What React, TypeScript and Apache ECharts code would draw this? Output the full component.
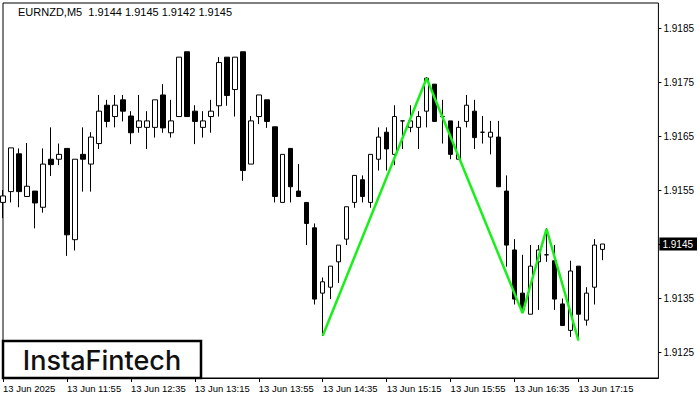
import React, { useEffect, useRef } from "react";
import * as echarts from "echarts";

// OHLC values per 5-minute bar (13 Jun, from 11:15)
const opens = [
  1.91527, 1.91547, 1.91617, 1.91538, 1.91548, 1.91518, 1.91607, 1.91607, 1.91627, 1.91458,
  1.91616, 1.91598, 1.91636, 1.91707, 1.91686, 1.91717, 1.91687, 1.91666, 1.91666, 1.91666,
  1.91726, 1.91656, 1.91686, 1.91806, 1.91696, 1.91666, 1.91686, 1.91706, 1.91796, 1.91736,
  1.91806, 1.91598, 1.91686, 1.91717, 1.91667, 1.91527, 1.91627, 1.91548, 1.91527, 1.9148,
  1.91359, 1.9137, 1.91417, 1.91459, 1.91527, 1.91569, 1.91527, 1.91607, 1.91657, 1.91616,
  1.91678, 1.91666, 1.91666, 1.91696, 1.91746, 1.91686, 1.91678, 1.91607, 1.91677, 1.91696,
  1.91657, 1.91648, 1.91648, 1.91548, 1.91439, 1.91359, 1.9132, 1.91417, 1.9143, 1.91419,
  1.91339, 1.9129, 1.91409, 1.91309, 1.9137, 1.9144,
];
const closes = [
  1.91539, 1.91628, 1.91547, 1.91557, 1.91526, 1.91598, 1.91597, 1.91616, 1.91467, 1.91607,
  1.91607, 1.91648, 1.91696, 1.91677, 1.91707, 1.91696, 1.91656, 1.91678, 1.91678, 1.91717,
  1.91665, 1.91678, 1.91796, 1.91686, 1.91677, 1.91678, 1.91696, 1.91786, 1.91725, 1.91796,
  1.91586, 1.91678, 1.91726, 1.91677, 1.91538, 1.91616, 1.91556, 1.91538, 1.91488, 1.91348,
  1.9138, 1.91409, 1.91448, 1.91519, 1.91577, 1.91538, 1.91616, 1.91648, 1.91626, 1.91686,
  1.91678, 1.91678, 1.91686, 1.91757, 1.91677, 1.91686, 1.91616, 1.91666, 1.91707, 1.91647,
  1.91657, 1.91657, 1.91556, 1.91448, 1.91348, 1.91328, 1.91409, 1.91439, 1.9143, 1.91348,
  1.91299, 1.914, 1.9132, 1.91359, 1.91448, 1.9145,
];
const lows = [
  1.91498, 1.91527, 1.91518, 1.91538, 1.91479, 1.91508, 1.91576, 1.91596, 1.91428, 1.91438,
  1.91547, 1.91547, 1.91626, 1.91666, 1.91666, 1.91677, 1.91635, 1.91656, 1.91626, 1.91647,
  1.91656, 1.91647, 1.91686, 1.91686, 1.91635, 1.91647, 1.91656, 1.91686, 1.91706, 1.91686,
  1.91567, 1.91598, 1.91672, 1.91665, 1.91527, 1.91527, 1.91527, 1.91538, 1.91448, 1.91338,
  1.9128, 1.91348, 1.91378, 1.91448, 1.91517, 1.91527, 1.91517, 1.91586, 1.91586, 1.91596,
  1.91626, 1.91657, 1.91626, 1.91666, 1.91677, 1.91636, 1.91607, 1.91607, 1.91666, 1.91626,
  1.91636, 1.91616, 1.91556, 1.91408, 1.91338, 1.91322, 1.9132, 1.91328, 1.91417, 1.91328,
  1.91299, 1.91278, 1.91272, 1.91299, 1.91338, 1.9142,
];
const highs = [
  1.9155, 1.91628, 1.91627, 1.91637, 1.91548, 1.91627, 1.91666, 1.91636, 1.91627, 1.91607,
  1.91666, 1.91657, 1.91726, 1.91717, 1.91726, 1.91726, 1.91696, 1.91726, 1.91696, 1.91717,
  1.91746, 1.91717, 1.91796, 1.91806, 1.91707, 1.91696, 1.91717, 1.91796, 1.91796, 1.91796,
  1.91806, 1.91687, 1.91726, 1.91717, 1.91667, 1.91616, 1.91627, 1.91598, 1.91527, 1.91488,
  1.91388, 1.91409, 1.91448, 1.91519, 1.91577, 1.91577, 1.91616, 1.91666, 1.91666, 1.91707,
  1.91678, 1.91707, 1.91696, 1.91759, 1.91746, 1.91717, 1.91678, 1.91678, 1.91726, 1.91717,
  1.91687, 1.91678, 1.91678, 1.91577, 1.91459, 1.9143, 1.91448, 1.91448, 1.91479, 1.91448,
  1.91349, 1.91419, 1.91409, 1.9137, 1.91459, 1.9145,
];

// Zigzag (double bottom pattern) pivots: bar index and price
const patternBars = [40, 53, 65, 68, 72];
const patternPrices = [1.9128, 1.91757, 1.91322, 1.91478, 1.91271];

const currentPrice = 1.9145;
const header = "EURNZD,M5  1.9144 1.9145 1.9142 1.9145";
const yTicks = [1.9125, 1.9135, 1.9145, 1.9155, 1.9165, 1.9175, 1.9185];
const xTickLabels = [
  "13 Jun 2025", "13 Jun 11:55", "13 Jun 12:35", "13 Jun 13:15", "13 Jun 13:55",
  "13 Jun 14:35", "13 Jun 15:15", "13 Jun 15:55", "13 Jun 16:35", "13 Jun 17:15",
];
const emptyBarsRight = 7;
const labelEvery = 8;

const pad = (n: number) => (n < 10 ? "0" + n : "" + n);
const categories: string[] = [];
for (let i = 0; i < opens.length + emptyBarsRight; i++) {
  const m = 11 * 60 + 15 + i * 5;
  categories.push("13 Jun " + pad(Math.floor(m / 60)) + ":" + pad(m % 60));
}

export default function App() {
  const ref = useRef<HTMLDivElement>(null);
  useEffect(() => {
    document.body.style.margin = "0";
    if (!ref.current) return;
    const chart = echarts.init(ref.current, undefined, { renderer: "svg" });
    const candleData = opens.map((o, i) => [o, closes[i], lows[i], highs[i]]);
    const lastTick = (xTickLabels.length - 1) * labelEvery;
    const showIdx = (i: number) => i % labelEvery === 0 && i <= lastTick;
    const yMin = 1.9185 - 350 / 54000;
    const yMax = 1.9185 + 25 / 54000;
    chart.setOption({
      animation: false,
      backgroundColor: "#fff",
      textStyle: { fontFamily: "Liberation Sans" },
      grid: {
        left: 3,
        top: 3,
        width: 656,
        height: 375,
        show: true,
        borderColor: "#000",
        borderWidth: 1,
        backgroundColor: "transparent",
      },
      xAxis: {
        type: "category",
        data: categories,
        boundaryGap: false,
        axisLine: { show: true, lineStyle: { color: "#000" } },
        axisTick: {
          show: true,
          length: 4,
          interval: (i: number) => showIdx(i),
          lineStyle: { color: "#000" },
        },
        axisLabel: {
          show: true,
          interval: (i: number) => showIdx(i),
          formatter: (_v: string, i: number) => (showIdx(i) ? xTickLabels[i / labelEvery] : ""),
          align: "left",
          margin: 5,
          fontSize: 9.5,
          color: "#000",
          fontFamily: "Liberation Sans",
        },
        splitLine: { show: false },
      },
      yAxis: [
        {
          type: "value",
          position: "right",
          min: yMin,
          max: yMax,
          scale: true,
          axisLine: { show: false },
          axisTick: {
            show: true,
            length: 3,
            customValues: yTicks,
            lineStyle: { color: "#000" },
          },
          axisLabel: {
            show: true,
            customValues: yTicks.filter((v) => Math.abs(v - currentPrice) > 1e-9),
            formatter: (v: number) => v.toFixed(4),
            margin: 5,
            fontSize: 10,
            color: "#000",
            fontFamily: "Liberation Sans",
          },
          splitLine: { show: false },
        },
        {
          type: "value",
          position: "right",
          min: yMin,
          max: yMax,
          scale: true,
          axisLine: { show: false },
          axisTick: { show: false },
          axisLabel: {
            show: true,
            customValues: [currentPrice],
            formatter: (v: number) => v.toFixed(4),
            margin: 1,
            fontSize: 10,
            color: "#fff",
            backgroundColor: "#000",
            padding: [2, 4, 1, 3],
            fontFamily: "Liberation Sans",
          },
          splitLine: { show: false },
        },
      ],
      series: [
        {
          type: "candlestick",
          data: candleData,
          barWidth: 5,
          clip: true,
          itemStyle: {
            color: "#ffffff",
            color0: "#000000",
            borderColor: "#000000",
            borderColor0: "#000000",
            borderWidth: 1,
          },
          markLine: {
            silent: true,
            symbol: ["none", "none"],
            lineStyle: { color: "#000", width: 1, type: "solid" },
            label: { show: false },
            data: [{ yAxis: currentPrice }],
          },
          z: 2,
        },
        {
          type: "line",
          data: patternBars.map((b, i) => [b, patternPrices[i]]),
          symbol: "none",
          lineStyle: { color: "#19f019", width: 2.5 },
          z: 5,
          silent: true,
        },
      ],
      graphic: [
        {
          type: "text",
          left: 18,
          top: 6,
          style: {
            text: header,
            fill: "#000",
            font: "11px 'Liberation Sans'",
          },
        },
        {
          type: "group",
          children: [
            {
              type: "rect",
              shape: { x: 3, y: 341, width: 198, height: 37 },
              style: { fill: "#fff", stroke: "#000", lineWidth: 2.5 },
              z: 100,
            },
            {
              type: "text",
              x: 102,
              y: 360,
              style: {
                text: "InstaFintech",
                fill: "#111",
                font: "500 27px Inter",
                align: "center",
                verticalAlign: "middle",
                textAlign: "center",
                textVerticalAlign: "middle",
              },
              z: 101,
            },
          ],
        },
      ],
    });
    return () => chart.dispose();
  }, []);
  return (
    <div
      ref={ref}
      style={{ position: "fixed", left: 0, top: 0, width: 700, height: 400, background: "#fff" }}
    />
  );
}
